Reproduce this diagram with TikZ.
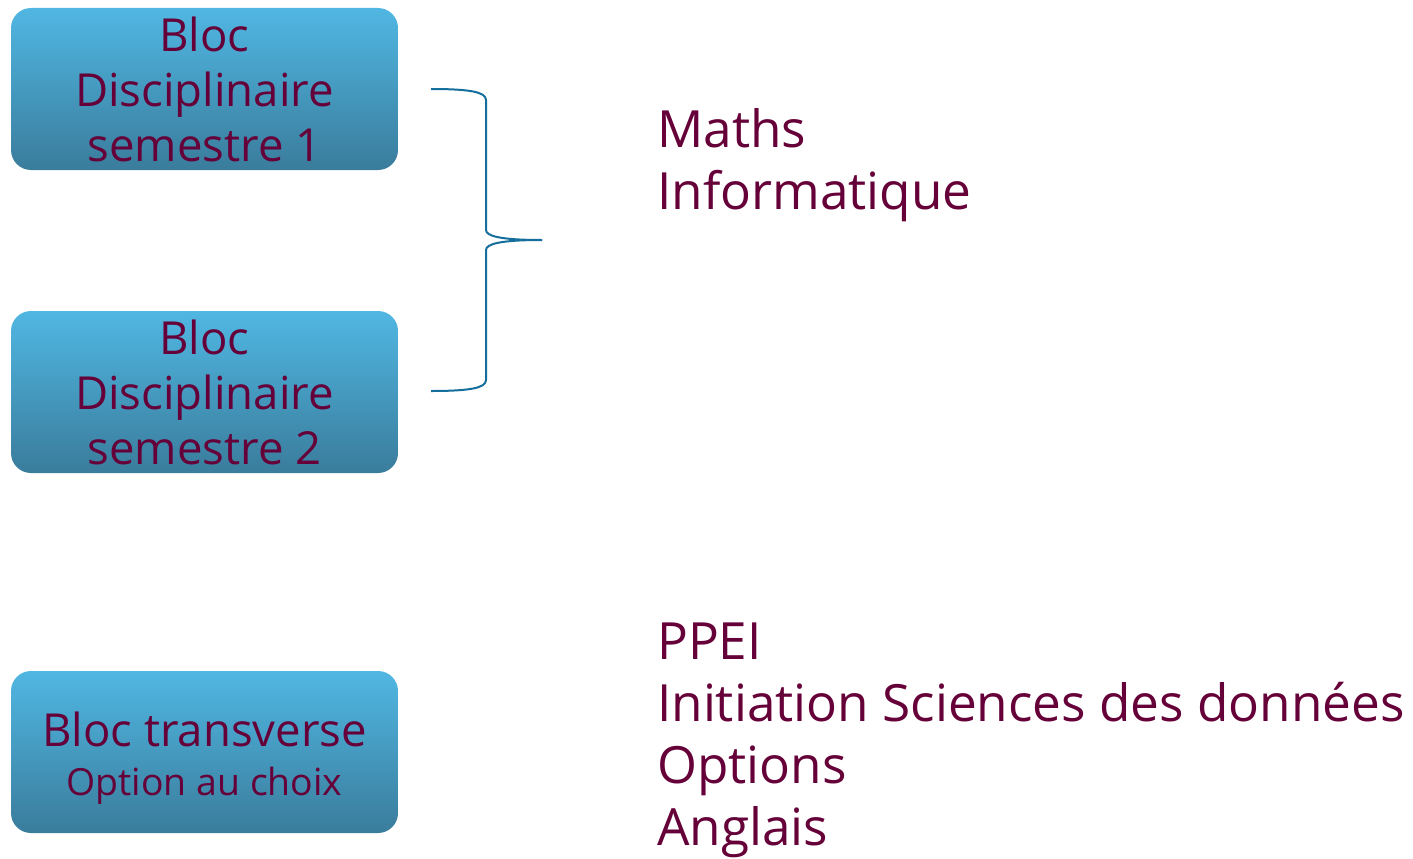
\documentclass[tikz,border=0pt]{standalone}
\usepackage{fontspec}
\setmainfont{Open Sans}
\definecolor{txt}{HTML}{650038}
\definecolor{boxtop}{HTML}{50B7E2}
\definecolor{boxbot}{HTML}{3A7C9C}
\definecolor{brace}{HTML}{156E9B}
\tikzset{
  bloc/.style={rounded corners=20pt, top color=boxtop, bottom color=boxbot, draw=none,
    minimum width=387pt, minimum height=162pt, inner sep=0pt, align=center, text=txt,
    font=\fontsize{45.5}{55}\selectfont},
  liste/.style={anchor=north west, inner sep=0pt, align=left, text=txt,
    font=\fontsize{51.3}{62}\selectfont},
  bracket/.style={draw=brace, line width=2pt}
}
\begin{document}
\begin{tikzpicture}[x=1pt,y=-1pt]
\useasboundingbox (0,0) rectangle (1413,859);
\node[bloc] (b1) at (204.5,89) {Bloc\\Disciplinaire\\semestre 1};
\node[bloc] (b2) at (204.5,392) {Bloc\\Disciplinaire\\semestre 2};
\node[bloc] (b3) at (204.5,752) {};
\node[align=center, text=txt, inner sep=0pt, font=\fontsize{45.5}{55}\selectfont] (b3t) at ([yshift=-6pt]b3.center) {Bloc transverse\\[-6pt]{\fontsize{37.4}{47}\selectfont Option au choix}};
\node[liste] (l1) at (657,108) {Maths\\Informatique};
\node[liste] (l2) at (657,623) {PPEI\\Initiation Sciences des données\\Options\\Anglais};
\coordinate (t1) at (431,89);
\coordinate (t2) at (431,391);
\coordinate (tip) at (542,240);
\draw[bracket] (t1) .. controls (470,89) and (486,92) .. (486,100)
  -- (486,230) .. controls (486,236) and (500,240) .. (tip);
\draw[bracket] (t2) .. controls (470,391) and (486,388) .. (486,380)
  -- (486,250) .. controls (486,244) and (500,240) .. (tip);
\end{tikzpicture}
\end{document}
